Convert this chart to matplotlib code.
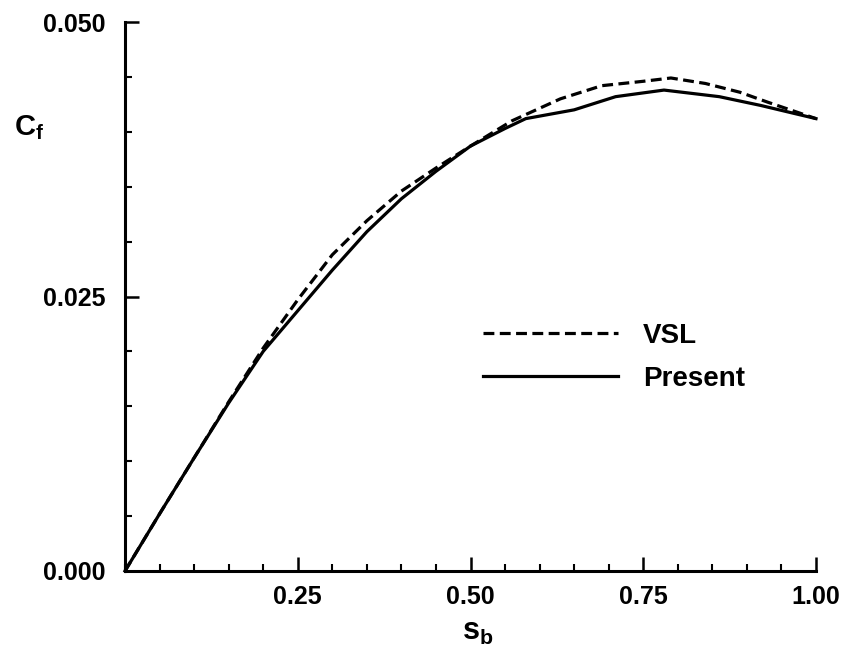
import matplotlib
matplotlib.use("Agg")
import matplotlib.pyplot as plt
from matplotlib.ticker import MultipleLocator, FixedLocator

plt.rcParams['font.family'] = ['Liberation Sans', 'DejaVu Sans']
plt.rcParams['font.weight'] = 'bold'
plt.rcParams['mathtext.fontset'] = 'custom'
plt.rcParams['mathtext.bf'] = 'Liberation Sans:bold'
plt.rcParams['mathtext.rm'] = 'Liberation Sans:bold'
plt.rcParams['mathtext.it'] = 'Liberation Sans:bold'

# Data
present_s = [0.0, 0.05, 0.10, 0.15, 0.20, 0.25, 0.30, 0.35, 0.40, 0.45, 0.50,
             0.55, 0.58, 0.65, 0.71, 0.78, 0.86, 0.92, 1.0]
present_cf = [0.0, 0.0052, 0.0103, 0.0153, 0.0200, 0.0237, 0.0274, 0.0309, 0.0339,
              0.0364, 0.0387, 0.0403, 0.0412, 0.0420, 0.0432, 0.0438, 0.0432, 0.0424, 0.0412]

vsl_s = [0.0, 0.05, 0.10, 0.15, 0.20, 0.25, 0.30, 0.35, 0.40, 0.45, 0.50, 0.56,
         0.63, 0.69, 0.75, 0.79, 0.84, 0.89, 0.93, 1.0]
vsl_cf = [0.0, 0.0052, 0.0103, 0.0154, 0.0203, 0.0247, 0.0288, 0.0319, 0.0346,
          0.0367, 0.0387, 0.0410, 0.0430, 0.0442, 0.0446, 0.0449, 0.0444, 0.0436, 0.0427, 0.0412]

x_major = [0.25, 0.50, 0.75, 1.00]
x_labels = ['0.25', '0.50', '0.75', '1.00']
y_major = [0.0, 0.025, 0.050]
y_labels = ['0.000', '0.025', '0.050']

W, H = 844, 653
fig = plt.figure(figsize=(W / 100, H / 100), dpi=100)
ax_l, ax_r, ax_t, ax_b = 125, 816, 22, 571
ax = fig.add_axes([ax_l / W, 1 - ax_b / H, (ax_r - ax_l) / W, (ax_b - ax_t) / H])

ax.plot(vsl_s, vsl_cf, color='black', lw=2.3, linestyle=(0, (3.4, 1.7)),
        label='VSL', clip_on=False)
ax.plot(present_s, present_cf, color='black', lw=2.3, label='Present', clip_on=False)

ax.set_xlim(0, 1.0)
ax.set_ylim(0, 0.05)

for s in ['top', 'right']:
    ax.spines[s].set_visible(False)
for s in ['left', 'bottom']:
    ax.spines[s].set_linewidth(2.2)

ax.xaxis.set_major_locator(FixedLocator(x_major))
ax.set_xticklabels(x_labels)
ax.xaxis.set_minor_locator(MultipleLocator(0.05))
ax.yaxis.set_major_locator(FixedLocator(y_major))
ax.set_yticklabels(y_labels)
ax.yaxis.set_minor_locator(MultipleLocator(0.005))

ax.tick_params(axis='both', which='major', direction='in', length=10, width=1.8,
               labelsize=18)
ax.tick_params(axis='both', which='minor', direction='in', length=5, width=1.5)
ax.tick_params(axis='x', which='major', pad=10)
ax.tick_params(axis='y', which='major', pad=14)
for lab in ax.get_xticklabels() + ax.get_yticklabels():
    lab.set_fontweight('bold')

leg_x = (483 - ax_l) / (ax_r - ax_l)
leg_y = 1 - (323 - ax_t) / (ax_b - ax_t)
ax.legend(loc='upper left', bbox_to_anchor=(leg_x, leg_y),
          frameon=False, prop={'weight': 'bold', 'size': 20},
          handlelength=4.85, handletextpad=0.9, labelspacing=0.6,
          borderpad=0, borderaxespad=0)

fig.text(14 / W, 1 - 128 / H, r'$\mathbf{C}_\mathbf{f}$', fontsize=21,
         ha='left', va='center')
fig.text(478 / W, 1 - 632 / H, r'$\mathbf{s}_\mathbf{b}$', fontsize=22,
         ha='center', va='center')

fig.savefig('out.png', dpi=100)
